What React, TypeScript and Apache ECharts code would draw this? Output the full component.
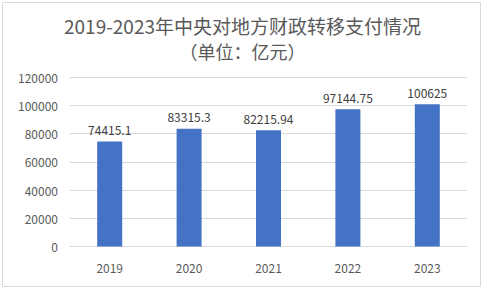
import React, { useEffect, useRef } from "react";
import * as echarts from "echarts";

const titleLine1 = "2019-2023年中央对地方财政转移支付情况";
const titleLine2 = "（单位：亿元）";
const categories = ["2019", "2020", "2021", "2022", "2023"];
const values = [74415.1, 83315.3, 82215.94, 97144.75, 100625];
const yTicks = [0, 20000, 40000, 60000, 80000, 100000, 120000];

export default function App() {
  const ref = useRef<HTMLDivElement>(null);
  useEffect(() => {
    document.body.style.margin = "0";
    const chart = echarts.init(ref.current!, undefined, { renderer: "svg" });
    const font = "'Microsoft YaHei', 'Noto Sans CJK SC', sans-serif";
    chart.setOption({
      animation: false,
      backgroundColor: "#ffffff",
      textStyle: { fontFamily: font },
      graphic: [
        {
          type: "rect",
          shape: { x: 2.5, y: 2.5, width: 478, height: 284 },
          style: { fill: "none", stroke: "#d9d9d9", lineWidth: 1 },
          silent: true,
        },
        {
          type: "text",
          x: 242.5,
          y: 25,
          style: {
            text: titleLine1,
            fill: "#595959",
            fontSize: 19,
            fontFamily: font,
            align: "center",
            verticalAlign: "middle",
          },
          silent: true,
        },
        {
          type: "text",
          x: 242.5,
          y: 51,
          style: {
            text: titleLine2,
            fill: "#595959",
            fontSize: 18,
            fontFamily: font,
            align: "center",
            verticalAlign: "middle",
          },
          silent: true,
        },
      ],
      grid: { left: 70, right: 18, top: 77, bottom: 46.5, containLabel: false },
      xAxis: {
        type: "category",
        data: categories,
        axisLine: { lineStyle: { color: "#d9d9d9" } },
        axisTick: { show: false },
        axisLabel: { color: "#595959", fontSize: 12, margin: 15, fontFamily: font },
      },
      yAxis: {
        type: "value",
        min: yTicks[0],
        max: yTicks[yTicks.length - 1],
        interval: yTicks[1] - yTicks[0],
        axisLine: { show: false },
        axisTick: { show: false },
        splitLine: { lineStyle: { color: "#d9d9d9" } },
        axisLabel: {
          color: "#595959",
          fontSize: 12,
          margin: 12,
          fontFamily: font,
          formatter: (v: number) => String(v),
        },
      },
      series: [
        {
          type: "bar",
          data: values,
          barWidth: 25,
          itemStyle: { color: "#4472c4" },
          label: {
            show: true,
            position: "top",
            distance: 6,
            color: "#404040",
            fontSize: 12,
            fontFamily: font,
          },
        },
      ],
    });
    return () => chart.dispose();
  }, []);
  return <div ref={ref} style={{ width: 485, height: 293 }} />;
}
